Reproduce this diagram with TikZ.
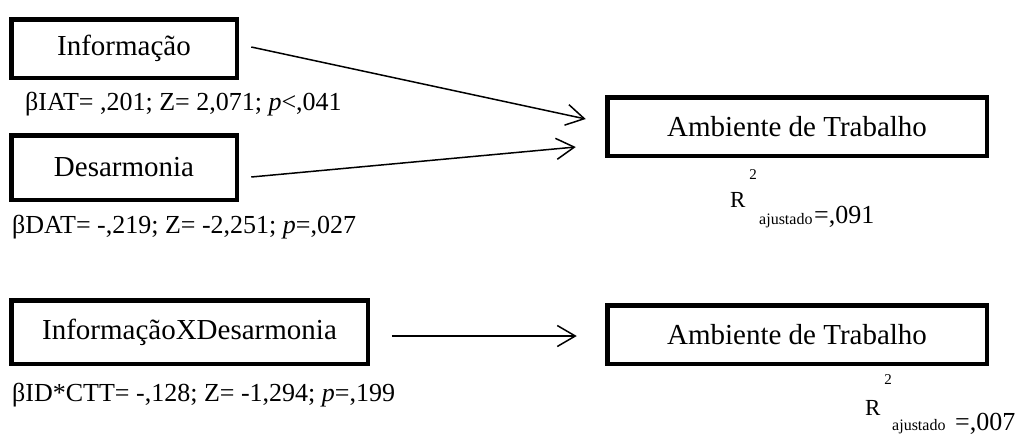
\documentclass[tikz,border=0pt]{standalone}
\usepackage{fontspec}
\setmainfont{Liberation Serif}
\usetikzlibrary{arrows.meta}

\tikzset{
  varbox/.style={draw, line width=4.5pt, inner sep=0pt, anchor=center,
    font=\fontsize{29}{34}\selectfont},
  stat/.style={inner sep=0pt, anchor=base west, font=\fontsize{26}{30}\selectfont},
  path/.style={line width=1.5pt, -{Straight Barb[length=18pt,width=21pt,line width=1.5pt]}},
  rsq/.style={inner sep=0pt, anchor=base west, font=\fontsize{23}{26}\selectfont},
  rsup/.style={inner sep=0pt, anchor=center, font=\fontsize{15}{17}\selectfont},
  rsub/.style={inner sep=0pt, anchor=base west, font=\fontsize{16}{18}\selectfont},
  rval/.style={inner sep=0pt, anchor=base west, font=\fontsize{26}{30}\selectfont},
}

\begin{document}
\begin{tikzpicture}[x=1pt, y=-1pt]
\useasboundingbox (0,0) rectangle (1017,437);

% predictors, first model
\node[varbox, minimum width=225.5pt, minimum height=58.5pt] (info) at (124,48.5) {Informação};
\node[stat] (infostat) at (25,110) {βIAT= ,201; Z= 2,071; \textit{p}<,041};
\node[varbox, minimum width=225.5pt, minimum height=64.5pt] (desar) at (124,167.5) {Desarmonia};
\node[stat] (desarstat) at (12,233) {βDAT= -,219; Z= -2,251; \textit{p}=,027};

% outcome, first model
\node[varbox, minimum width=379.5pt, minimum height=58.5pt] (ambA) at (797,126.5) {Ambiente de Trabalho};
\node[rsup] (twoA) at (753,175) {2};
\node[rsq] (rA) at (730,207) {R};
\node[rsub] (subA) at (759,224) {ajustado};
\node[rval] (valA) at (814,223) {=,091};

% interaction model
\node[varbox, minimum width=356.5pt, minimum height=63.5pt] (inter) at (189.5,332) {InformaçãoXDesarmonia};
\node[stat] (interstat) at (12,401) {βID*CTT= -,128; Z= -1,294; \textit{p}=,199};
\node[varbox, minimum width=379.5pt, minimum height=58.5pt] (ambB) at (797,334.5) {Ambiente de Trabalho};
\node[rsup] (twoB) at (888,380) {2};
\node[rsq] (rB) at (865,415) {R};
\node[rsub] (subB) at (892,430) {ajustado};
\node[rval] (valB) at (955,430) {=,007};

% arrow end points
\coordinate (infoOut) at ([shift={(12.25,-1.5)}]info.east);
\coordinate (ambInA) at ([shift={(-19.25,-7.5)}]ambA.west);
\coordinate (desarOut) at ([shift={(12.25,9.5)}]desar.east);
\coordinate (ambInB) at ([shift={(-29.25,20.5)}]ambA.west);
\coordinate (interOut) at ([shift={(21.75,4)}]inter.east);
\coordinate (ambInC) at ([shift={(-28.25,1.5)}]ambB.west);

\draw[path] (infoOut) -- (ambInA);
\draw[path] (desarOut) -- (ambInB);
\draw[path] (interOut) -- (ambInC);
\end{tikzpicture}
\end{document}
